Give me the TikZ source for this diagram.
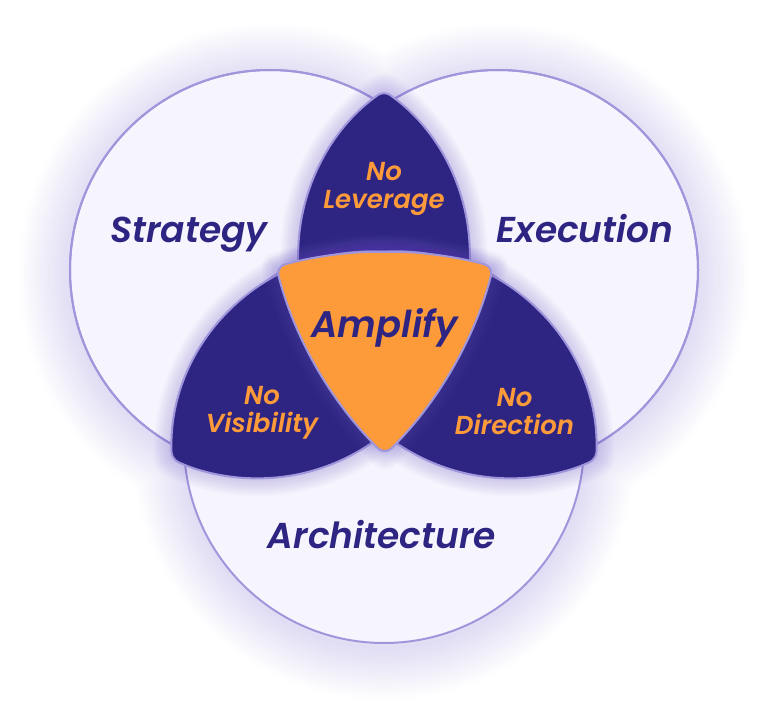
\documentclass[tikz,border=0pt]{standalone}
\usepackage{fontspec}
\usepackage{tikz}
\usetikzlibrary{positioning}
\newfontfamily\vennfont{Poppins SemiBold Italic}
\definecolor{cdark}{RGB}{46,36,130}
\definecolor{corange}{RGB}{253,154,58}
\definecolor{cfill}{RGB}{246,245,254}
\definecolor{cline}{RGB}{160,150,220}
\definecolor{cglow}{RGB}{110,90,200}

\begin{document}
\begin{tikzpicture}[x=1pt, y=-1pt,
  ring/.style={draw=cline, line width=2pt, fill=cfill},
  petal/.style={draw=cline, line width=2pt, fill=cdark, rounded corners=7pt, line join=round},
  core/.style={draw=cline, line width=2pt, fill=corange, rounded corners=9pt, line join=round},
  glow/.style={draw=cglow, draw opacity=0.025, fill=none, line join=round},
  lbl/.style={font=\vennfont\fontsize{36}{40}\selectfont, text=cdark, anchor=base},
  sub/.style={font=\vennfont\fontsize{26}{28}\selectfont, text=corange, align=center}]
\useasboundingbox (0,0) rectangle (768,711);
% halo round the three circles
\foreach \w in {4,8,...,104}
  \draw[glow, draw opacity=0.009, line width=\w pt, yshift=-5]
    (270,270) circle[radius=200] (498,270) circle[radius=200] (384,443) circle[radius=200];
\path[ring] (270,270) circle[radius=200];
\path[ring] (498,270) circle[radius=200];
\path[ring] (384,443) circle[radius=200];
\draw[cline, line width=2pt] (270,270) circle[radius=200] (498,270) circle[radius=200];
% petals
\begin{scope}[shift={(0,-15)}]
  \foreach \w in {3,6,...,36}
    \draw[glow, line width=\w pt] (384,434.3) arc[start angle=124.8, end angle=235.2, radius=200]
      arc[start angle=-55.2, end angle=55.2, radius=200] -- cycle;
  \path[petal] (384,434.3) arc[start angle=124.8, end angle=235.2, radius=200]
    arc[start angle=-55.2, end angle=55.2, radius=200] -- cycle;
\end{scope}
\begin{scope}[shift={(-12.5,8.3)}]
  \foreach \w in {3,6,...,36}
    \draw[glow, line width=\w pt] (469.9,262.4) arc[start angle=-2.2, end angle=115.4, radius=200]
      arc[start angle=177.8, end angle=295.4, radius=200] -- cycle;
  \path[petal] (469.9,262.4) arc[start angle=-2.2, end angle=115.4, radius=200]
    arc[start angle=177.8, end angle=295.4, radius=200] -- cycle;
\end{scope}
\begin{scope}[shift={(12.5,8.3)}]
  \foreach \w in {3,6,...,36}
    \draw[glow, line width=\w pt] (298.1,262.4) arc[start angle=182.2, end angle=64.6, radius=200]
      arc[start angle=2.2, end angle=-115.4, radius=200] -- cycle;
  \path[petal] (298.1,262.4) arc[start angle=182.2, end angle=64.6, radius=200]
    arc[start angle=2.2, end angle=-115.4, radius=200] -- cycle;
\end{scope}
% centre
\foreach \w in {3,6,...,30}
  \draw[glow, line width=\w pt] (384.75,251.8) arc[start angle=-90, end angle=-74.26, radius=400]
    arc[start angle=14.26, end angle=45.74, radius=400]
    arc[start angle=134.26, end angle=165.74, radius=400]
    arc[start angle=-105.74, end angle=-90, radius=400] -- cycle;
\path[core] (384.75,251.8) arc[start angle=-90, end angle=-74.26, radius=400]
  arc[start angle=14.26, end angle=45.74, radius=400]
  arc[start angle=134.26, end angle=165.74, radius=400]
  arc[start angle=-105.74, end angle=-90, radius=400] -- cycle;

\node[lbl] (strat) at (189,243) {Strategy};
\node[lbl] (exec)  at (585,243) {Execution};
\node[lbl] (arch)  at (382,548) {Architecture};
\node[lbl, font=\vennfont\fontsize{37}{40}\selectfont] (amp) at (384.5,337) {Amplify};
\node[sub] (lev) at (384,189) {No\\Leverage};
\node[sub] (vis) at (262,413) {No\\Visibility};
\node[sub] (dir) at (514.5,412) {No\\Direction};
\end{tikzpicture}
\end{document}
